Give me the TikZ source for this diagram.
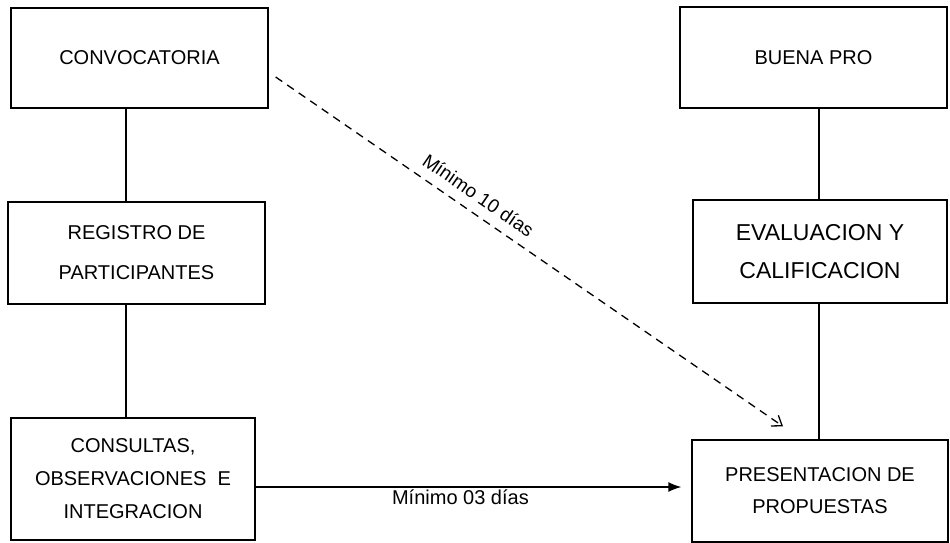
\documentclass[tikz,border=0pt]{standalone}
\usepackage{fontspec}
\setmainfont{Liberation Sans}
\usetikzlibrary{arrows.meta,calc}

\begin{document}
\begin{tikzpicture}[x=1pt,y=-1pt,
  box/.style={draw,line width=1.3pt,align=center,inner sep=0pt,font=\fontsize{20}{33}\selectfont},
  link/.style={line width=1.3pt},
  lbl/.style={inner sep=2pt,font=\fontsize{19}{22}\selectfont}]
\useasboundingbox (0,0) rectangle (950,542);
\node[box,minimum width=257pt,minimum height=100pt] (conv) at (139.5,58) {CONVOCATORIA};
\node[box,minimum width=257pt,minimum height=102pt,font=\fontsize{20}{40}\selectfont] (reg) at (136.5,253) {REGISTRO DE\\PARTICIPANTES};
\node[box,minimum width=244pt,minimum height=122pt] (cons) at (133,479) {CONSULTAS,\\OBSERVACIONES~~E\\INTEGRACION};
\node[box,minimum width=267pt,minimum height=101pt] (bpro) at (813.5,57.5) {BUENA PRO};
\node[box,minimum width=254pt,minimum height=103pt,font=\fontsize{23}{38}\selectfont] (eval) at (820,251.5) {EVALUACION Y\\CALIFICACION};
\node[box,minimum width=256pt,minimum height=102pt,font=\fontsize{20}{32}\selectfont] (pres) at (820,491) {PRESENTACION DE\\PROPUESTAS};
\coordinate (lx) at (126,0);
\coordinate (rx) at (819,0);
\coordinate (hy) at (0,487);
\draw[link] (lx |- conv.south) -- (lx |- reg.north);
\draw[link] (lx |- reg.south) -- (lx |- cons.north);
\draw[link] (rx |- bpro.south) -- (rx |- eval.north);
\draw[link] (rx |- eval.south) -- (rx |- pres.north);
\draw[link,-{Latex[length=13pt,width=10pt]},shorten >=10pt] (cons.east |- hy) -- (pres.west |- hy)
  node[lbl,below,pos=0.47,font=\fontsize{20}{22}\selectfont] {Mínimo 03 días};
\coordinate (d1) at ($(conv.east)+(7,19)$);
\coordinate (d2) at ($(pres.north)+(-37,-13)$);
\draw[link,dash pattern=on 8pt off 6pt,-{Straight Barb[length=9pt,width=13pt]}] (d1) -- (d2)
  node[lbl,sloped,above=8pt,pos=0.38] {Mínimo 10 días};
\end{tikzpicture}
\end{document}
